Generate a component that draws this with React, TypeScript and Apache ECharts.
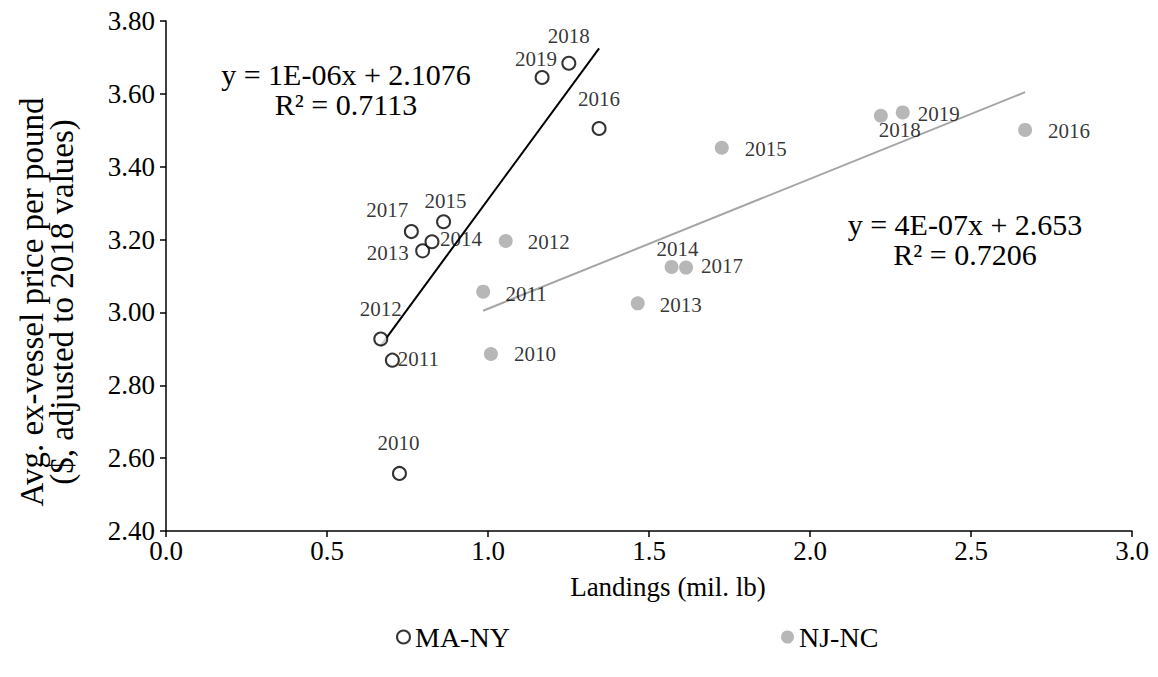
import React, { useEffect, useRef } from "react";
import * as echarts from "echarts";

const years = [2010, 2011, 2012, 2013, 2014, 2015, 2016, 2017, 2018, 2019];
const maLandings = [0.725, 0.703, 0.667, 0.797, 0.826, 0.862, 1.345, 0.762, 1.251, 1.168];
const maPrice = [2.558, 2.869, 2.927, 3.169, 3.194, 3.249, 3.505, 3.222, 3.684, 3.645];
const njLandings = [1.009, 0.985, 1.055, 1.465, 1.57, 1.726, 2.668, 1.615, 2.22, 2.288];
const njPrice = [2.886, 3.057, 3.196, 3.025, 3.125, 3.452, 3.501, 3.123, 3.54, 3.549];
const xTicks = [0, 0.5, 1.0, 1.5, 2.0, 2.5, 3.0];
const yTicks = [2.4, 2.6, 2.8, 3.0, 3.2, 3.4, 3.6, 3.8];
const maEquation = ["y = 1E-06x + 2.1076", "R² = 0.7113"];
const njEquation = ["y = 4E-07x + 2.653", "R² = 0.7206"];

// label offsets (label centre relative to point centre), per year
const maLabelOffset: Record<number, [number, number]> = {
  2010: [-1, -30], 2011: [26, -1], 2012: [0, -30], 2013: [-35, 2], 2014: [29, -3],
  2015: [2, -21], 2016: [0, -29], 2017: [-24, -22], 2018: [0, -27], 2019: [-6, -18],
};
const njLabelOffset: Record<number, [number, number]> = {
  2010: [44, 0], 2011: [43, 2], 2012: [43, 1], 2013: [43, 2], 2014: [6, -18],
  2015: [44, 1], 2016: [44, 1], 2017: [36, -2], 2018: [19, 14], 2019: [36, 2],
};

const FONT = "'Liberation Serif', 'Times New Roman', serif";
const GRAY = "#A5A5A5";

function fit(xs: number[], ys: number[]) {
  const n = xs.length;
  const mx = xs.reduce((a, b) => a + b, 0) / n;
  const my = ys.reduce((a, b) => a + b, 0) / n;
  let sxy = 0, sxx = 0;
  for (let i = 0; i < n; i++) {
    sxy += (xs[i] - mx) * (ys[i] - my);
    sxx += (xs[i] - mx) * (xs[i] - mx);
  }
  const b = sxy / sxx;
  const a = my - b * mx;
  const x0 = Math.min(...xs), x1 = Math.max(...xs);
  return [[x0, a + b * x0], [x1, a + b * x1]];
}

function points(xs: number[], ys: number[], offs: Record<number, [number, number]>) {
  return xs.map((x, i) => ({
    value: [x, ys[i]],
    label: { offset: offs[years[i]] },
  }));
}

export default function App() {
  const ref = useRef<HTMLDivElement>(null);
  useEffect(() => {
    document.body.style.margin = "0";
    const chart = echarts.init(ref.current!, null, { renderer: "svg" });
    const labelBase = {
      show: true,
      position: "inside",
      formatter: (p: any) => String(years[p.dataIndex]),
      color: "#000",
      fontFamily: FONT,
      fontSize: 21,
      align: "center",
      verticalAlign: "middle",
    };
    const legendText = { color: "#000", fontFamily: FONT, fontSize: 28 };
    chart.setOption({
      animation: false,
      backgroundColor: "#fff",
      grid: { left: 166, right: 26, top: 21, bottom: 146, containLabel: false },
      xAxis: {
        type: "value",
        min: 0,
        max: 3,
        interval: 0.5,
        splitLine: { show: false },
        axisLine: { lineStyle: { color: "#000", width: 1.5 } },
        axisTick: { length: 6, lineStyle: { color: "#000", width: 1.5 } },
        axisLabel: {
          color: "#000", fontFamily: FONT, fontSize: 27, margin: 6,
          formatter: (v: number) => (xTicks.includes(v) ? v.toFixed(1) : ""),
        },
      },
      yAxis: {
        type: "value",
        min: 2.4,
        max: 3.8,
        interval: 0.2,
        splitLine: { show: false },
        axisLine: { show: true, lineStyle: { color: "#000", width: 1.5 } },
        axisTick: { show: true, length: 6, lineStyle: { color: "#000", width: 1.5 } },
        axisLabel: {
          color: "#000", fontFamily: FONT, fontSize: 27, margin: 11,
          formatter: (v: number) => (yTicks.some((t) => Math.abs(t - v) < 1e-9) ? v.toFixed(2) : ""),
        },
      },
      legend: [
        {
          data: ["MA-NY"], left: 391, top: 618, icon: "circle", itemWidth: 13, itemHeight: 13,
          textStyle: legendText,
        },
        {
          data: ["NJ-NC"], left: 776, top: 618, icon: "circle", itemWidth: 13, itemHeight: 13,
          textStyle: legendText,
        },
      ],
      series: [
        {
          name: "MA-NY trend", type: "line", data: fit(maLandings, maPrice), symbol: "none",
          silent: true, lineStyle: { color: "#000", width: 2 }, z: 1,
        },
        {
          name: "NJ-NC trend", type: "line", data: fit(njLandings, njPrice), symbol: "none",
          silent: true, lineStyle: { color: GRAY, width: 2 }, z: 1,
        },
        {
          name: "MA-NY", type: "scatter", symbol: "circle", symbolSize: 13,
          itemStyle: { color: "#fff", borderColor: "#000", borderWidth: 2 },
          label: labelBase,
          data: points(maLandings, maPrice, maLabelOffset), z: 3,
        },
        {
          name: "NJ-NC", type: "scatter", symbol: "circle", symbolSize: 14,
          itemStyle: { color: GRAY },
          label: labelBase,
          data: points(njLandings, njPrice, njLabelOffset), z: 3,
        },
      ],
      graphic: [
        {
          type: "text", x: 47, y: 302, rotation: Math.PI / 2,
          style: {
            text: "Avg. ex-vessel price per pound\n($, adjusted to 2018 values)",
            fill: "#000", font: `33px ${FONT}`, align: "center", verticalAlign: "middle", lineHeight: 30,
          },
        },
        {
          type: "text", x: 668, y: 587,
          style: { text: "Landings (mil. lb)", fill: "#000", font: `27px ${FONT}`, align: "center", verticalAlign: "middle" },
        },
        {
          type: "text", x: 346, y: 89,
          style: {
            text: maEquation.join("\n"), fill: "#000", font: `30px ${FONT}`,
            align: "center", verticalAlign: "middle", lineHeight: 30,
          },
        },
        {
          type: "text", x: 965, y: 239,
          style: {
            text: njEquation.join("\n"), fill: "#000", font: `30px ${FONT}`,
            align: "center", verticalAlign: "middle", lineHeight: 30,
          },
        },
      ],
    });
    return () => chart.dispose();
  }, []);
  return <div ref={ref} style={{ width: 1158, height: 677 }} />;
}
